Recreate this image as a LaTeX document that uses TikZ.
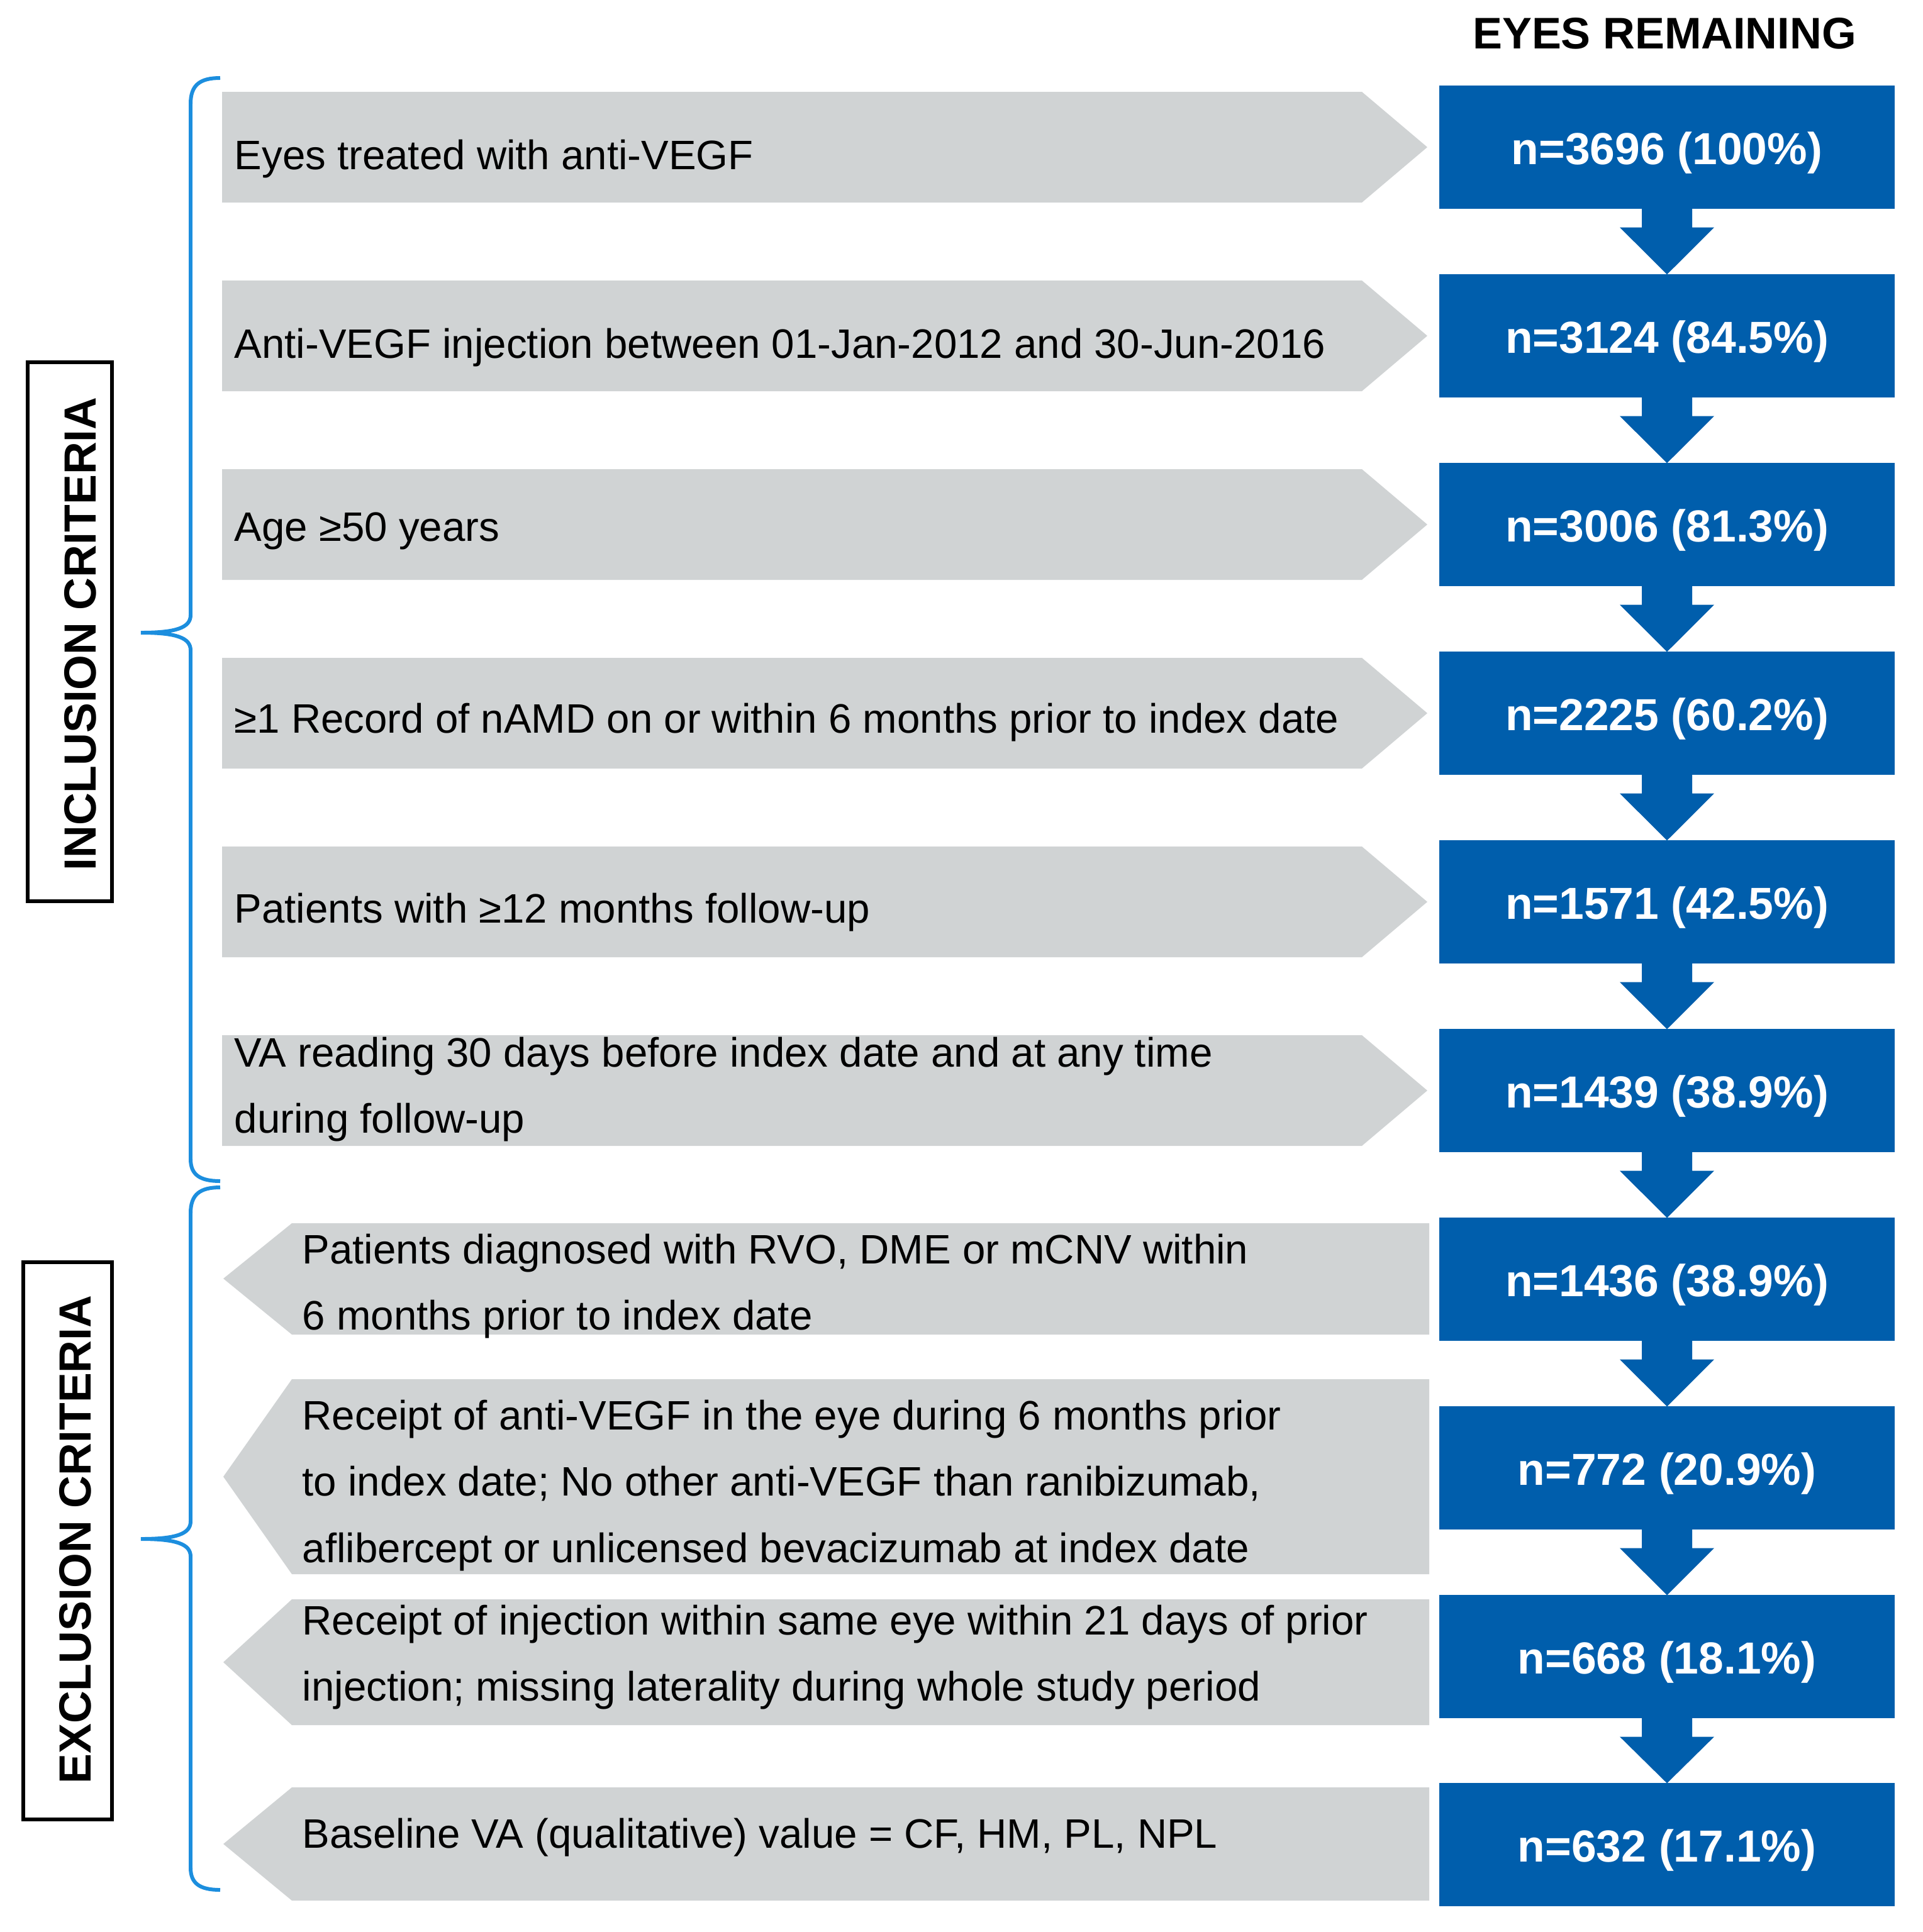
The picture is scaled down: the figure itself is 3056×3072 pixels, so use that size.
\documentclass[tikz,border=0pt]{standalone}
\usepackage{fontspec}
\setmainfont{Liberation Sans}
\usetikzlibrary{calc}

\definecolor{boxblue}{RGB}{0,94,172}
\definecolor{shapegrey}{RGB}{208,211,212}
\definecolor{braceblue}{RGB}{28,142,222}

\tikzset{
  nbox/.style={fill=boxblue, text=white, minimum width=7.24cm, minimum height=1.95cm,
    inner sep=0pt, outer sep=0pt, text height=18pt, text depth=2.6pt,
    font=\fontsize{20.3}{24}\selectfont\bfseries},
  crit/.style={anchor=west, inner sep=0pt, text height=14pt, text depth=4.1pt,
    font=\fontsize{18.6}{30}\selectfont},
  critml/.style={anchor=west, align=left, inner sep=0pt, font=\fontsize{18.6}{30}\selectfont},
  critbox/.style={draw, line width=1.6pt, inner sep=0pt},
  crittext/.style={rotate=90, inner sep=0pt, font=\fontsize{20.4}{24}\selectfont\bfseries},
  curly/.style={draw=braceblue, line width=1.7pt},
  flowarrow/.style={fill=boxblue},
}

\begin{document}
\begin{tikzpicture}[x=0.01cm, y=-0.01cm]
        \useasboundingbox (0,0) rectangle (3056,3072);

        % 标题
        \node[font=\fontsize{20}{24}\selectfont\bfseries] (head) at (2646,53) {EYES REMAINING};

        % 灰色箭头 (纳入)
        \fill[shapegrey] (353,146) -- (2165,146) -- (2269,234) -- (2165,322) -- (353,322) -- cycle;
        \fill[shapegrey] (353,446) -- (2165,446) -- (2269,534) -- (2165,622) -- (353,622) -- cycle;
        \fill[shapegrey] (353,746) -- (2165,746) -- (2269,834) -- (2165,922) -- (353,922) -- cycle;
        \fill[shapegrey] (353,1046) -- (2165,1046) -- (2269,1134) -- (2165,1222) -- (353,1222) -- cycle;
        \fill[shapegrey] (353,1346) -- (2165,1346) -- (2269,1434) -- (2165,1522) -- (353,1522) -- cycle;
        \fill[shapegrey] (353,1646) -- (2165,1646) -- (2269,1734) -- (2165,1822) -- (353,1822) -- cycle;

        % 灰色箭头 (排除)
        \fill[shapegrey] (464,1945) -- (2272,1945) -- (2272,2122) -- (464,2122) -- (355,2033) -- cycle;
        \fill[shapegrey] (464,2193) -- (2272,2193) -- (2272,2503) -- (464,2503) -- (355,2348) -- cycle;
        \fill[shapegrey] (464,2543) -- (2272,2543) -- (2272,2743) -- (464,2743) -- (355,2643) -- cycle;
        \fill[shapegrey] (464,2842) -- (2272,2842) -- (2272,3022) -- (464,3022) -- (355,2932) -- cycle;

        % 条件文字
        \node[crit] (c1) at (372,252) {Eyes treated with anti-VEGF};
        \node[crit] (c2) at (372,552) {Anti-VEGF injection between 01-Jan-2012 and 30-Jun-2016};
        \node[crit] (c3) at (372,843) {Age ≥50 years};
        \node[crit] (c4) at (372,1148) {≥1 Record of nAMD on or within 6 months prior to index date};
        \node[crit] (c5) at (372,1450) {Patients with ≥12 months follow-up};
        \node[critml] (c6) at (372,1732) {VA reading 30 days before index date and at any time\\during follow-up};
        \node[critml] (c7) at (480,2045) {Patients diagnosed with RVO, DME or mCNV within\\6 months prior to index date};
        \node[critml] (c8) at (480,2362) {Receipt of anti-VEGF in the eye during 6 months prior\\to index date; No other anti-VEGF than ranibizumab,\\aflibercept or unlicensed bevacizumab at index date};
        \node[critml] (c9) at (480,2635) {Receipt of injection within same eye within 21 days of prior\\injection; missing laterality during whole study period};
        \node[crit] (c10) at (480,2921) {Baseline VA (qualitative) value = CF, HM, PL, NPL};

        % 蓝色方框
        \node[nbox] (r1) at (2650,234) {n=3696 (100\%)};
        \node[nbox] (r2) at (2650,534) {n=3124 (84.5\%)};
        \node[nbox] (r3) at (2650,834) {n=3006 (81.3\%)};
        \node[nbox] (r4) at (2650,1134) {n=2225 (60.2\%)};
        \node[nbox] (r5) at (2650,1434) {n=1571 (42.5\%)};
        \node[nbox] (r6) at (2650,1734) {n=1439 (38.9\%)};
        \node[nbox] (r7) at (2650,2034) {n=1436 (38.9\%)};
        \node[nbox] (r8) at (2650,2334) {n=772 (20.9\%)};
        \node[nbox] (r9) at (2650,2634) {n=668 (18.1\%)};
        \node[nbox] (r10) at (2650,2933) {n=632 (17.1\%)};

        % 向下箭头
        \foreach \a/\b in {r1/r2,r2/r3,r3/r4,r4/r5,r5/r6,r6/r7,r7/r8,r8/r9,r9/r10}
          \fill[flowarrow] ($(\a.south)+(-40,0)$) -- ($(\a.south)+(-40,30)$) -- ($(\a.south)+(-75,30)$)
            -- (\b.north) -- ($(\a.south)+(75,30)$) -- ($(\a.south)+(40,30)$) -- ($(\a.south)+(40,0)$) -- cycle;

        % 大括号
        \draw[curly] (350,124) .. controls (318,124) and (303,135) .. (303,165) -- (303,978)
          .. controls (303,998) and (280,1006) .. (224,1006)
          .. controls (280,1006) and (303,1014) .. (303,1034) -- (303,1843)
          .. controls (303,1868) and (318,1878) .. (350,1878);
        \draw[curly] (350,1888) .. controls (318,1888) and (303,1899) .. (303,1929) -- (303,2419)
          .. controls (303,2439) and (280,2447) .. (224,2447)
          .. controls (280,2447) and (303,2455) .. (303,2475) -- (303,2970)
          .. controls (303,2995) and (318,3005) .. (350,3005);

        % 左侧标签
        \draw[critbox] (44,576) rectangle (178,1433);
        \node[crittext] (inc) at (128,1008) {INCLUSION CRITERIA};
        \draw[critbox] (37,2007) rectangle (178,2893);
        \node[crittext] (exc) at (120,2448) {EXCLUSION CRITERIA};
    \end{tikzpicture}
\end{document}
